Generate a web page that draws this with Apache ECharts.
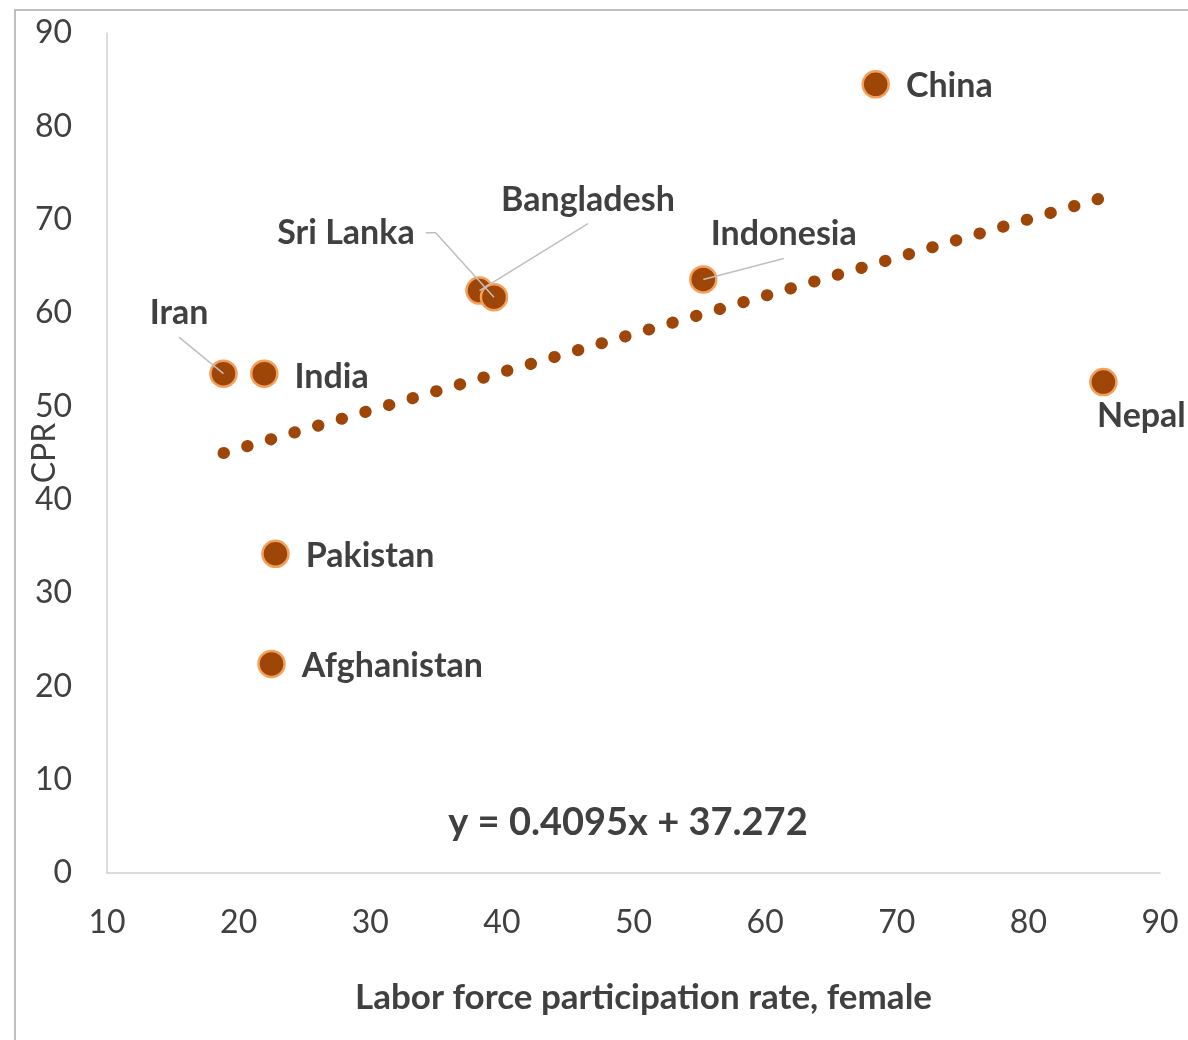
<!DOCTYPE html>
<html>
<head>
<meta charset="utf-8">
<script src="https://cdn.jsdelivr.net/npm/echarts@6/dist/echarts.min.js"></script>
<style>
  html, body { margin: 0; padding: 0; background: #ffffff; }
  #chart { width: 1188px; height: 1040px; }
</style>
</head>
<body>
<div id="chart"></div>
<script>
// ---- data ----
var countries = ['Iran', 'India', 'Pakistan', 'Afghanistan', 'Bangladesh', 'Sri Lanka', 'Indonesia', 'China', 'Nepal'];
var laborForceFemale = [18.85, 21.95, 22.8, 22.5, 38.3, 39.4, 55.3, 68.4, 85.7];
var cprValues = [53.5, 53.5, 34.2, 22.4, 62.4, 61.7, 63.6, 84.5, 52.6];
var trendSlope = 0.4095;
var trendIntercept = 37.272;
var xTicks = [10, 20, 30, 40, 50, 60, 70, 80, 90];
var yTicks = [0, 10, 20, 30, 40, 50, 60, 70, 80, 90];

// ---- label styling (pixel placement only) ----
var labelPlacement = {
  'Iran':        { pos: 'inside', dx: -44.5, dy: -60.5, leader: 'bottom' },
  'India':       { pos: 'right',  dx: 0,     dy: 3,     leader: null },
  'Pakistan':    { pos: 'right',  dx: 0,     dy: 2,     leader: null },
  'Afghanistan': { pos: 'right',  dx: 0,     dy: 2,     leader: null },
  'Bangladesh':  { pos: 'inside', dx: 108.5, dy: -91,   leader: 'bottom' },
  'Sri Lanka':   { pos: 'inside', dx: -148,  dy: -64.5, leader: 'right' },
  'Indonesia':   { pos: 'inside', dx: 80.5,  dy: -45,   leader: 'bottom' },
  'China':       { pos: 'right',  dx: 0,     dy: 2,     leader: null },
  'Nepal':       { pos: 'inside', dx: 38,    dy: 34,    leader: null }
};

var textColor = '#404040';
var brown = '#9E4508';
var labelFont = { family: 'Lato', weight: 'bold', size: 34 };

var measureCtx = document.createElement('canvas').getContext('2d');
function textWidth(t) {
  measureCtx.font = labelFont.weight + ' ' + labelFont.size + 'px ' + labelFont.family;
  return measureCtx.measureText(t).width;
}

var scatterData = countries.map(function (name, i) {
  return {
    name: name,
    value: [laborForceFemale[i], cprValues[i]],
    label: { position: labelPlacement[name].pos, distance: 16 }
  };
});

var leaderData = [];
countries.forEach(function (name, i) {
  if (labelPlacement[name].leader) leaderData.push([laborForceFemale[i], cprValues[i], i]);
});

var xMinData = Math.min.apply(null, laborForceFemale);
var xMaxData = Math.max.apply(null, laborForceFemale);
var trendData = [
  [xMinData, trendSlope * xMinData + trendIntercept],
  [xMaxData, trendSlope * xMaxData + trendIntercept]
];

var chart = echarts.init(document.getElementById('chart'), null, { renderer: 'canvas' });

var option = {
  backgroundColor: '#ffffff',
  animation: false,
  textStyle: { fontFamily: 'Lato' },
  grid: { left: 107, right: 28, top: 33, bottom: 167, containLabel: false, outerBoundsMode: 'none' },
  xAxis: {
    type: 'value',
    min: xTicks[0],
    max: xTicks[xTicks.length - 1],
    interval: 10,
    name: 'Labor force participation rate, female',
    nameLocation: 'middle',
    nameGap: 107,
    nameMoveOverlap: false,
    nameTextStyle: { fontFamily: 'Lato', fontWeight: 'bold', fontSize: 35, color: textColor, padding: [0, 0, 0, 20] },
    axisLine: { show: true, lineStyle: { color: '#D0D0D0', width: 1.5 } },
    axisTick: { show: false },
    splitLine: { show: false },
    axisLabel: { fontFamily: 'Lato', fontSize: 32, color: textColor, margin: 34 }
  },
  yAxis: {
    type: 'value',
    min: yTicks[0],
    max: yTicks[yTicks.length - 1],
    interval: 10,
    name: 'CPR',
    nameLocation: 'middle',
    nameGap: 46,
    nameRotate: 90,
    nameMoveOverlap: false,
    nameTextStyle: { fontFamily: 'Lato', fontSize: 32, color: textColor },
    axisLine: { show: true, lineStyle: { color: '#D0D0D0', width: 1.5 } },
    axisTick: { show: false },
    splitLine: { show: false },
    axisLabel: { fontFamily: 'Lato', fontSize: 32, color: textColor, margin: 35 }
  },
  series: [
    {
      type: 'line',
      data: trendData,
      symbol: 'none',
      silent: true,
      z: 3,
      lineStyle: { color: brown, width: 12, type: [0.5, 24.1], cap: 'round' }
    },
    {
      type: 'scatter',
      data: scatterData,
      symbol: 'circle',
      symbolSize: 26,
      z: 2,
      itemStyle: { color: brown, borderColor: '#F5A05A', borderWidth: 2.5, opacity: 1 },
      label: {
        show: true,
        formatter: function (p) { return p.name; },
        fontFamily: labelFont.family,
        fontWeight: labelFont.weight,
        fontSize: labelFont.size,
        color: textColor
      },
      labelLayout: function (params) {
        var p = labelPlacement[countries[params.dataIndex]];
        return { dx: p.dx, dy: p.dy };
      }
    },
    {
      type: 'custom',
      data: leaderData,
      silent: true,
      z: 4,
      renderItem: function (params, api) {
        var c = api.coord([api.value(0), api.value(1)]);
        var name = countries[api.value(2)];
        var p = labelPlacement[name];
        var pts;
        if (p.leader === 'right') {
          var ax = c[0] + p.dx + textWidth(name) / 2 + 11;
          var ay = c[1] + p.dy;
          pts = [[ax, ay], [ax + 10, ay], c];
        } else {
          pts = [[c[0] + p.dx, c[1] + p.dy + 24], c];
        }
        return {
          type: 'polyline',
          shape: { points: pts },
          style: { stroke: '#BFBFBF', lineWidth: 1.5, fill: null }
        };
      }
    }
  ],
  graphic: [
    {
      type: 'rect',
      silent: true,
      shape: { x: 15, y: 10, width: 1400, height: 1300 },
      style: { fill: 'none', stroke: '#ABABAB', lineWidth: 1.5 }
    },
    {
      type: 'text',
      silent: true,
      x: 628,
      y: 823,
      style: {
        text: 'y = ' + trendSlope + 'x + ' + trendIntercept,
        fontFamily: 'Lato',
        fontWeight: 'bold',
        fontSize: 38,
        fill: textColor,
        align: 'center',
        verticalAlign: 'middle'
      }
    }
  ]
};

chart.setOption(option);
</script>
</body>
</html>
